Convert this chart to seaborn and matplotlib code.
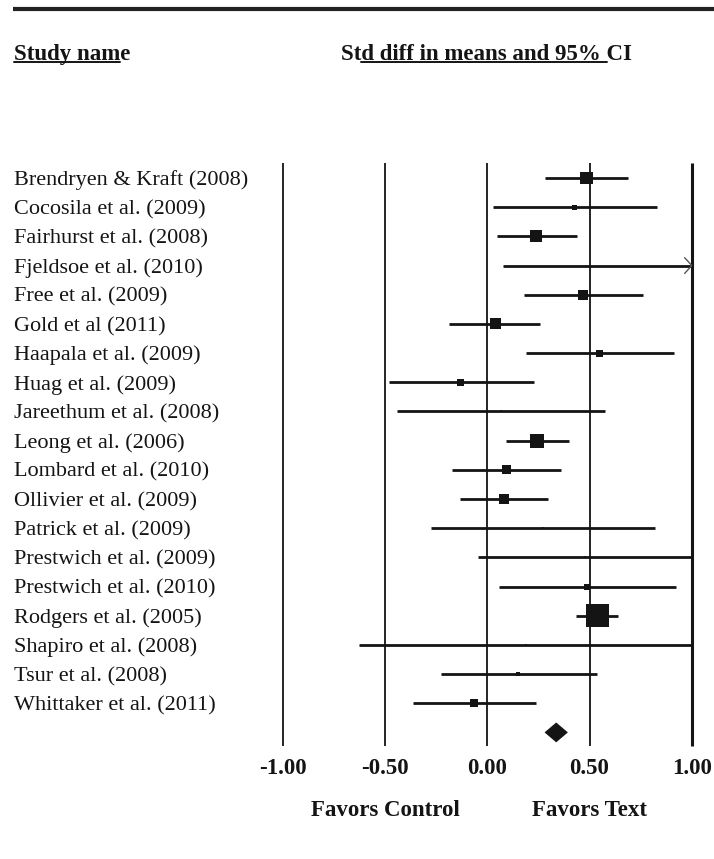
import matplotlib
matplotlib.use("Agg")
import numpy as np
import pandas as pd
import seaborn as sns
import matplotlib.pyplot as plt
from matplotlib.transforms import blended_transform_factory

# ---------------- data ----------------
studies = [
    "Brendryen & Kraft (2008)", "Cocosila et al. (2009)", "Fairhurst et al. (2008)",
    "Fjeldsoe et al. (2010)", "Free et al. (2009)", "Gold et al (2011)",
    "Haapala et al. (2009)", "Huag et al. (2009)", "Jareethum et al. (2008)",
    "Leong et al. (2006)", "Lombard et al. (2010)", "Ollivier et al. (2009)",
    "Patrick et al. (2009)", "Prestwich et al. (2009)", "Prestwich et al. (2010)",
    "Rodgers et al. (2005)", "Shapiro et al. (2008)", "Tsur et al. (2008)",
    "Whittaker et al. (2011)",
]
means = [0.484, 0.427, 0.239, 1.10, 0.470, 0.039, 0.549, -0.129, 0.066,
         0.245, 0.092, 0.082, 0.272, 0.478, 0.487, 0.541, 0.190, 0.152, -0.067]
lower = [0.283, 0.026, 0.048, 0.078, 0.180, -0.186, 0.190, -0.482, -0.443,
         0.090, -0.175, -0.134, -0.277, -0.044, 0.059, 0.435, -0.627, -0.228, -0.361]
upper = [0.688, 0.830, 0.441, 2.10, 0.760, 0.258, 0.912, 0.229, 0.574,
         0.400, 0.361, 0.299, 0.822, 1.000, 0.922, 0.637, 1.000, 0.534, 0.239]
weights = [161, 25, 144, 20, 100, 121, 49, 49, 4,
           196, 81, 100, 4, 4, 36, 529, 4, 16, 64]
summary_mean, summary_lower, summary_upper = 0.337, 0.280, 0.394
ticks = [-1.0, -0.5, 0.0, 0.5, 1.0]
tick_labels = ["-1.00", "-0.50", "0.00", "0.50", "1.00"]
favor_labels = ["Favors Control", "Favors Text"]
header_left = "Study name"
header_right = "Std diff in means and 95% CI"

# ---------------- layout ----------------
sns.set_theme(style="white")
plt.rcParams["font.family"] = ["Liberation Serif", "DejaVu Serif"]

W, H = 714, 859
fig = plt.figure(figsize=(W / 100, H / 100), dpi=100)
ax = fig.add_axes([0, 0, 1, 1])
px_unit = 204.5
x0px = 487.3
row_px = 29.18
row0px = 178.0
XLIM = (-x0px / px_unit, (W - x0px) / px_unit)
YLIM = ((H - row0px) / row_px, -row0px / row_px)

def yrow(py):
    return (py - row0px) / row_px

def xpx(px):
    return (px - x0px) / px_unit

df = pd.DataFrame({"study": studies, "mean": means, "lower": lower,
                   "upper": upper, "weight": weights})
df["row"] = np.arange(len(df))
n = len(df)

ink = "#141414"
name_fs = 16
bold_fs = 16.5

# vertical reference lines
lws = [1.3, 1.3, 1.3, 1.3, 2.2]
for t, lw in zip(ticks, lws):
    ax.plot([t, t], [yrow(163), yrow(746)], color=ink, lw=lw, solid_capstyle="butt")

# confidence intervals (clipped at axis max)
xmax = ticks[-1]
ax.hlines(df["row"], df["lower"], np.minimum(df["upper"], xmax),
          color=ink, lw=2.0)
for _, r in df[df["upper"] > xmax + 1e-9].iterrows():
    ax.plot([xmax - 0.035, xmax, xmax - 0.035], [r.row - 0.27, r.row, r.row + 0.27],
            color="#555555", lw=1.0)

# squares (area proportional to weight)
vis = df[df["mean"] <= xmax]
sns.scatterplot(data=vis, x="mean", y="row", size="weight", sizes=(0, 276),
                size_norm=(0, max(weights)), marker="s", color=ink,
                linewidth=0, legend=False, ax=ax, zorder=3)
ax.set_xlim(*XLIM)
ax.set_ylim(*YLIM)
ax.axis("off")

# summary diamond
dy = 0.34
ax.fill([summary_lower, summary_mean, summary_upper, summary_mean],
        [n, n - dy, n, n + dy], color=ink, lw=0, zorder=3)

# study names
tr = blended_transform_factory(ax.transAxes, ax.transData)
for _, r in df.iterrows():
    ax.text(14 / W, r.row, r.study, transform=tr, ha="left", va="center_baseline",
            fontsize=name_fs, color=ink)

# tick labels
for t, lab in zip(ticks, tick_labels):
    ax.text(t, yrow(768), lab, ha="center", va="center", fontsize=bold_fs,
            fontweight="bold", color=ink)
ax.text(-0.5, yrow(810), favor_labels[0], ha="center", va="center",
        fontsize=bold_fs, fontweight="bold", color=ink)
ax.text(0.5, yrow(810), favor_labels[1], ha="center", va="center",
        fontsize=bold_fs, fontweight="bold", color=ink)

# top rule
ax.plot([xpx(13), XLIM[1]], [yrow(9.5), yrow(9.5)],
        color="#222222", lw=3.0, solid_capstyle="butt")

# headers with underlines
fig.canvas.draw()
rend = fig.canvas.get_renderer()
hdr_y = yrow(52)
h1 = ax.text(14 / W, hdr_y, header_left, transform=tr, ha="left",
             va="center_baseline", fontsize=bold_fs, fontweight="bold", color=ink)
h2 = ax.text(341 / W, hdr_y, header_right, transform=tr, ha="left",
             va="center_baseline", fontsize=bold_fs, fontweight="bold", color=ink)

def text_width_px(s):
    t = ax.text(0, 0, s, fontsize=bold_fs, fontweight="bold")
    w = t.get_window_extent(renderer=rend).width
    t.remove()
    return w

inv = ax.transData.inverted()
ul_y = yrow(62)
b1 = h1.get_window_extent(renderer=rend)
u0 = b1.x0
u1 = b1.x0 + text_width_px(header_left[:-1])
ax.plot([inv.transform((u0, 0))[0], inv.transform((u1, 0))[0]], [ul_y, ul_y],
        color=ink, lw=1.4)
b2 = h2.get_window_extent(renderer=rend)
s0 = b2.x0 + text_width_px(header_right[:2])
s1 = b2.x0 + text_width_px(header_right[:-2])
ax.plot([inv.transform((s0, 0))[0], inv.transform((s1, 0))[0]], [ul_y, ul_y],
        color=ink, lw=1.4)

fig.savefig("out.png", dpi=100)
